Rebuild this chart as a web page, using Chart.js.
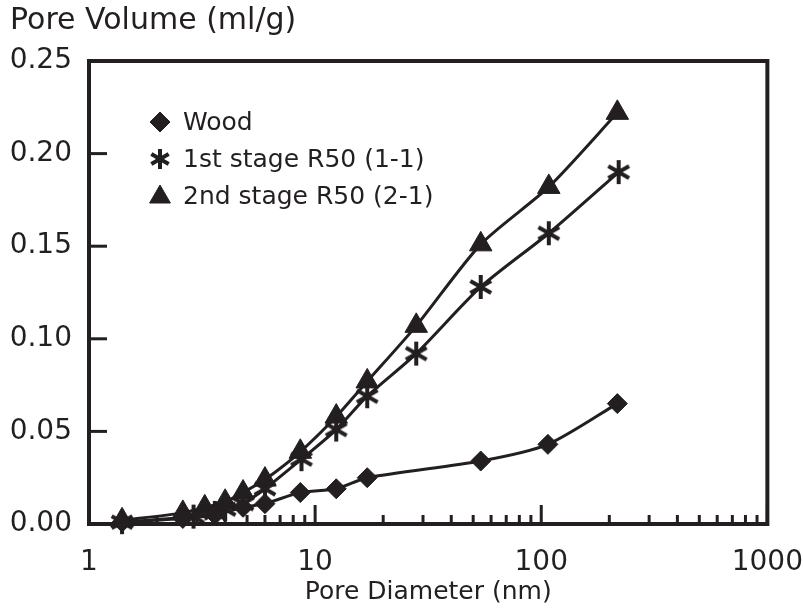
<!DOCTYPE html>
<html>
<head>
<meta charset="utf-8">
<script src="https://cdn.jsdelivr.net/npm/chart.js@4/dist/chart.umd.min.js"></script>
<style>
html,body{margin:0;padding:0;background:#fff;}
#wrap{width:803px;height:610px;}
</style>
</head>
<body>
<div id="wrap"><canvas id="c" width="803" height="610"></canvas></div>
<script>
// ---- data ----
const woodLabel = "Wood";
const stage1Label = "1st stage R50 (1-1)";
const stage2Label = "2nd stage R50 (2-1)";

const woodX = [1.4, 2.6, 3.6, 4.8, 6.0, 8.6, 12.4, 17, 54, 107, 217];
const woodY = [0.001, 0.003, 0.005, 0.009, 0.011, 0.017, 0.019, 0.025, 0.034, 0.043, 0.065];

const stage1X = [1.4, 2.9, 3.6, 4.0, 4.8, 6.0, 8.7, 12.4, 17, 28, 54, 108, 220];
const stage1Y = [0.001, 0.004, 0.006, 0.008, 0.011, 0.019, 0.035, 0.051, 0.069, 0.092, 0.128, 0.157, 0.190];

const stage2X = [1.4, 2.6, 3.25, 4.0, 4.8, 6.0, 8.6, 12.4, 17, 28, 54, 108, 217];
const stage2Y = [0.002, 0.006, 0.009, 0.012, 0.017, 0.024, 0.039, 0.058, 0.077, 0.107, 0.151, 0.182, 0.222];

const xMajorTicks = [1, 10, 100, 1000];
const xMinorTicks = [2,3,4,5,6,7,8,9,20,30,40,50,60,70,80,90,200,300,400,500,600,700,800,900];
const yTicks = [0, 0.05, 0.10, 0.15, 0.20, 0.25];

const yTitle = "Pore Volume (ml/g)";
const xTitle = "Pore Diameter (nm)";

// ---- styling ----
const INK = '#231f20';
const FONT = 'DejaVu Sans';

function makeStar(size, r, lw) {
  const cv = document.createElement('canvas');
  cv.width = size; cv.height = size;
  const g = cv.getContext('2d');
  g.strokeStyle = INK; g.lineWidth = lw; g.lineCap = 'butt';
  const c = size / 2;
  [90, 30, 150].forEach(a => {
    const t = a * Math.PI / 180;
    g.beginPath();
    g.moveTo(c - Math.cos(t) * r, c - Math.sin(t) * r);
    g.lineTo(c + Math.cos(t) * r, c + Math.sin(t) * r);
    g.stroke();
  });
  return cv;
}
const starImg = makeStar(28, 12, 4);
const starLegendImg = makeStar(24, 10, 4);

const toPts = (xs, ys) => xs.map((x, i) => ({x: x, y: ys[i]}));

const frameTicks = {
  id: 'frameTicks',
  beforeDatasetsDraw(chart) {
    const {ctx, chartArea: a, scales} = chart;
    ctx.save();
    ctx.strokeStyle = INK;
    ctx.lineWidth = 3;
    xMajorTicks.forEach(v => {
      const px = scales.x.getPixelForValue(v);
      ctx.beginPath(); ctx.moveTo(px, a.bottom); ctx.lineTo(px, a.bottom - 19); ctx.stroke();
    });
    xMinorTicks.forEach(v => {
      const px = scales.x.getPixelForValue(v);
      ctx.beginPath(); ctx.moveTo(px, a.bottom); ctx.lineTo(px, a.bottom - 9); ctx.stroke();
    });
    yTicks.forEach(v => {
      const py = scales.y.getPixelForValue(v);
      ctx.beginPath(); ctx.moveTo(a.left, py); ctx.lineTo(a.left + 18, py); ctx.stroke();
    });
    ctx.lineWidth = 4;
    ctx.strokeRect(a.left, a.top, a.right - a.left, a.bottom - a.top);
    ctx.restore();
  },
  afterDraw(chart) {
    const {ctx, chartArea: a} = chart;
    const ds = chart.data.datasets;
    ctx.save();
    ctx.fillStyle = INK;
    ctx.strokeStyle = INK;
    ctx.font = '25px "' + FONT + '"';
    ctx.textBaseline = 'middle';
    const rows = [122, 159, 196];
    const mx = a.left + 71;
    ds.forEach((d, i) => {
      const y = rows[i];
      const style = i === 1 ? starLegendImg : d.pointStyle;
      Chart.helpers.drawPoint(ctx, {pointStyle: style, radius: i === 2 ? 12 : 10, rotation: 0, borderWidth: 1}, mx, i === 2 ? y + 1 : y);
      ctx.fillStyle = INK;
      ctx.fillText(d.label, a.left + 94, y + 1);
    });
    ctx.restore();
  }
};

const common = {
  showLine: true,
  borderColor: INK,
  backgroundColor: INK,
  pointBackgroundColor: INK,
  pointBorderColor: INK,
  borderWidth: 3,
  pointBorderWidth: 1,
  tension: 0.25,
  clip: false
};

new Chart(document.getElementById('c'), {
  type: 'scatter',
  data: {
    datasets: [
      Object.assign({label: woodLabel, data: toPts(woodX, woodY), pointStyle: 'rectRot', pointRadius: 10}, common),
      Object.assign({label: stage1Label, data: toPts(stage1X, stage1Y), pointStyle: starImg, pointRadius: 12}, common),
      Object.assign({label: stage2Label, data: toPts(stage2X, stage2Y), pointStyle: 'triangle', pointRadius: 13}, common)
    ]
  },
  options: {
    responsive: false,
    animation: false,
    devicePixelRatio: 1,
    layout: {padding: {left: 10, right: 0, top: 0, bottom: 0}},
    plugins: {
      legend: {display: false},
      tooltip: {enabled: false},
      title: {
        display: true, text: yTitle, align: 'start', color: INK,
        font: {family: FONT, size: 30, weight: 'normal'},
        padding: {top: 3, bottom: 22}
      }
    },
    scales: {
      x: {
        type: 'logarithmic', min: 1, max: 1000,
        grid: {display: false, drawTicks: true, tickLength: 22}, border: {display: false},
        afterBuildTicks: s => { s.ticks = xMajorTicks.map(v => ({value: v})); },
        afterFit: s => { s.height = 86; },
        ticks: {
          color: INK, padding: 0, maxRotation: 0, autoSkip: false,
          font: {family: FONT, size: 28},
          callback: v => String(v)
        },
        title: {display: true, text: xTitle, color: INK, font: {family: FONT, size: 25}, padding: {top: 0, bottom: 3}}
      },
      y: {
        type: 'linear', min: 0, max: 0.25,
        grid: {display: false, drawTicks: false}, border: {display: false},
        afterBuildTicks: s => { s.ticks = yTicks.map(v => ({value: v})); },
        afterFit: s => { s.width = 79; },
        ticks: {
          color: INK, padding: 17,
          font: {family: FONT, size: 28},
          callback: v => Number(v).toFixed(2)
        }
      }
    }
  },
  plugins: [frameTicks]
});
</script>
</body>
</html>
